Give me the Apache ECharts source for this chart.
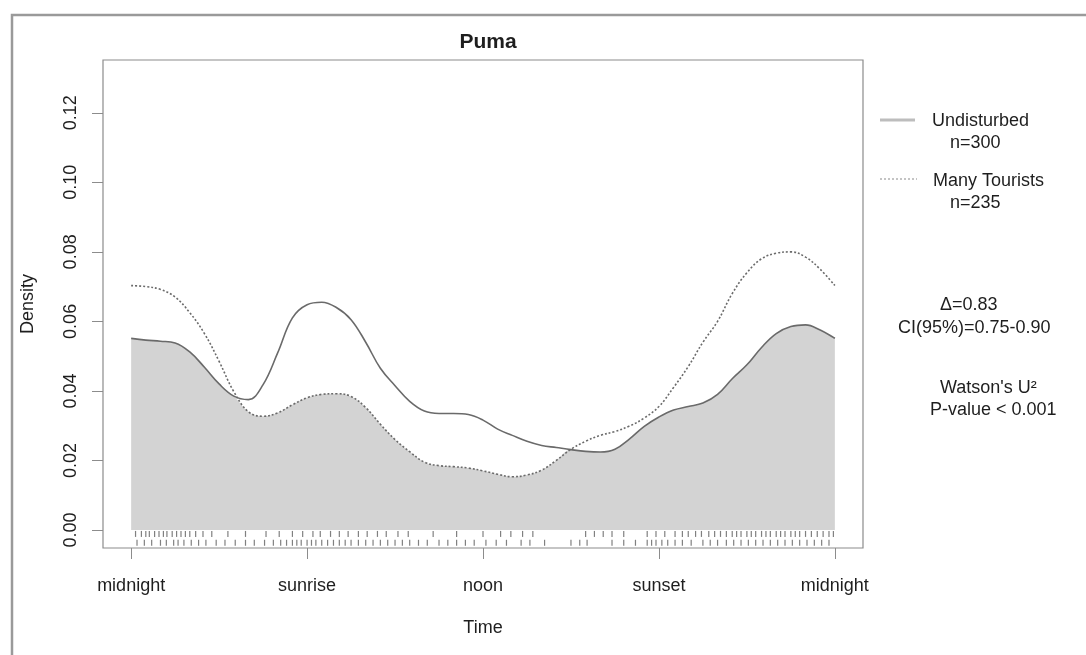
<!DOCTYPE html>
<html>
<head>
<meta charset="utf-8">
<title>Puma</title>
<script src="https://cdn.jsdelivr.net/npm/echarts@6/dist/echarts.min.js"></script>
<style>
  html, body { margin: 0; padding: 0; background: #fff; }
  #chart { width: 1086px; height: 655px; }
</style>
</head>
<body>
<div id="chart"></div>
<script>
// Time of day in hours, sampled every half hour (0 = midnight, 24 = midnight)
const hours = [
  0, 0.5, 1, 1.5, 2, 2.5, 3, 3.5, 4, 4.5, 5, 5.5, 6, 6.5, 7, 7.5, 8, 8.5, 9, 9.5,
  10, 10.5, 11, 11.5, 12, 12.5, 13, 13.5, 14, 14.5, 15, 15.5, 16, 16.5, 17, 17.5,
  18, 18.5, 19, 19.5, 20, 20.5, 21, 21.5, 22, 22.5, 23, 23.5, 24
];

// Kernel density of activity, undisturbed sites
const undisturbed = [
  0.0551, 0.0546, 0.0543, 0.0538, 0.0512, 0.0468, 0.0420, 0.0385, 0.0375, 0.0418,
  0.0510, 0.0610, 0.0648, 0.0655, 0.0640, 0.0605, 0.0540, 0.0465, 0.0415, 0.0370,
  0.0342, 0.0335, 0.0335, 0.0332, 0.0316, 0.0290, 0.0272, 0.0255, 0.0243, 0.0237,
  0.0231, 0.0226, 0.0224, 0.0232, 0.0262, 0.0298, 0.0325, 0.0345, 0.0355, 0.0365,
  0.0390, 0.0435, 0.0475, 0.0525, 0.0565, 0.0585, 0.0590, 0.0575, 0.0551
];

// Kernel density of activity, sites with many tourists
const manyTourists = [
  0.0703, 0.0700, 0.0692, 0.0670, 0.0625, 0.0565, 0.0485, 0.0398, 0.0340, 0.0327,
  0.0337, 0.0360, 0.0380, 0.0390, 0.0392, 0.0384, 0.0352, 0.0304, 0.0260, 0.0225,
  0.0195, 0.0185, 0.0182, 0.0178, 0.0170, 0.0160, 0.0153, 0.0158, 0.0172, 0.0200,
  0.0232, 0.0255, 0.0272, 0.0283, 0.0299, 0.0322, 0.0355, 0.0410, 0.0470, 0.0540,
  0.0600, 0.0680, 0.0740, 0.0780, 0.0796, 0.0800, 0.0785, 0.0750, 0.0703
];

// Individual detection times (hours) shown as rugs under the curves
const rugTourists = [
  0.15, 0.35, 0.5, 0.62, 0.8, 0.95, 1.1, 1.22, 1.4, 1.55, 1.7, 1.85, 2.0, 2.2, 2.45,
  2.75, 3.3, 3.9, 4.6, 5.05, 5.5, 5.85, 6.2, 6.45, 6.8, 7.1, 7.4, 7.75, 8.05, 8.4,
  8.7, 9.1, 9.45, 10.3, 11.1, 12.0, 12.6, 12.95, 13.35, 13.7, 15.5, 15.8, 16.1, 16.4,
  16.8, 17.6, 17.9, 18.2, 18.55, 18.8, 19.0, 19.25, 19.45, 19.7, 19.9, 20.1, 20.3,
  20.5, 20.65, 20.8, 21.0, 21.15, 21.3, 21.5, 21.65, 21.8, 22.0, 22.15, 22.3, 22.5,
  22.65, 22.8, 23.0, 23.2, 23.4, 23.6, 23.8, 23.95
];
const rugUndisturbed = [
  0.2, 0.45, 0.7, 1.0, 1.2, 1.45, 1.6, 1.8, 2.05, 2.3, 2.55, 2.9, 3.2, 3.55, 3.9,
  4.2, 4.55, 4.85, 5.1, 5.3, 5.5, 5.65, 5.8, 6.0, 6.15, 6.3, 6.5, 6.7, 6.9, 7.1,
  7.3, 7.5, 7.75, 8.0, 8.25, 8.5, 8.75, 9.0, 9.25, 9.5, 9.8, 10.1, 10.5, 10.8, 11.1,
  11.4, 11.7, 12.1, 12.45, 12.8, 13.3, 13.6, 14.1, 15.0, 15.3, 15.55, 16.4, 16.8,
  17.2, 17.6, 17.75, 17.9, 18.1, 18.3, 18.55, 18.8, 19.1, 19.5, 19.75, 20.0, 20.3,
  20.55, 20.8, 21.05, 21.3, 21.55, 21.8, 22.05, 22.3, 22.55, 22.8, 23.05, 23.3,
  23.55, 23.8
];

// Axis ticks
const xTickHours = [0, 6, 12, 18, 24];
const xTickLabels = ['midnight', 'sunrise', 'noon', 'sunset', 'midnight'];
const yTicks = [0, 0.02, 0.04, 0.06, 0.08, 0.1, 0.12];

// Vertical positions of the two rug rows (below zero)
const rugLevelTourists = -0.00115;
const rugLevelUndisturbed = -0.0037;

const FONT = '"Liberation Sans", Arial, Helvetica, sans-serif';
const TEXT = '#1e1e1e';

const pairs = (xs, ys) => xs.map((x, i) => [x, ys[i]]);
// Overlap region: the lower of the two densities at each time
const overlap = hours.map((h, i) => [h, Math.min(undisturbed[i], manyTourists[i])]);

const chart = echarts.init(document.getElementById('chart'), null, { renderer: 'canvas' });

function label(text, x, y) {
  return {
    type: 'text', x: x, y: y,
    style: { text: text, fill: TEXT, font: '18px ' + FONT, verticalAlign: 'middle', align: 'left' }
  };
}

chart.setOption({
  animation: false,
  backgroundColor: '#fff',
  textStyle: { fontFamily: FONT },
  title: {
    text: 'Puma',
    left: 483, top: 27, textAlign: 'center',
    textStyle: { fontSize: 21, fontWeight: 'bold', color: TEXT, fontFamily: FONT }
  },
  grid: {
    left: 103, top: 60, right: 223, bottom: 107,
    show: true, borderColor: '#8c8c8c', borderWidth: 1.2, backgroundColor: 'transparent'
  },
  xAxis: {
    type: 'value', min: -0.96, max: 24.96,
    name: 'Time', nameLocation: 'middle', nameGap: 71,
    nameTextStyle: { fontSize: 18, color: TEXT, fontFamily: FONT },
    axisLine: { show: false, onZero: false },
    splitLine: { show: false },
    axisTick: { show: true, customValues: xTickHours, length: 11, lineStyle: { color: '#8c8c8c', width: 1 } },
    axisLabel: {
      customValues: xTickHours, margin: 29, fontSize: 18, color: TEXT, fontFamily: FONT,
      formatter: v => xTickLabels[xTickHours.indexOf(v)] || ''
    }
  },
  yAxis: {
    type: 'value', min: -0.0052, max: 0.1352,
    name: 'Density', nameLocation: 'middle', nameGap: 66, nameRotate: 90,
    nameTextStyle: { fontSize: 18, color: TEXT, fontFamily: FONT },
    axisLine: { show: false, onZero: false },
    splitLine: { show: false },
    axisTick: { show: true, customValues: yTicks, length: 11, lineStyle: { color: '#8c8c8c', width: 1 } },
    axisLabel: {
      customValues: yTicks, rotate: 90, margin: 23, fontSize: 18, color: TEXT, fontFamily: FONT,
      formatter: v => v.toFixed(2)
    }
  },
  series: [
    {
      name: 'overlap', type: 'line', data: overlap, smooth: 0.4, showSymbol: false,
      lineStyle: { width: 0 }, areaStyle: { color: '#d3d3d3', opacity: 1, origin: 'auto' },
      z: 1, silent: true
    },
    {
      name: 'Undisturbed', type: 'line', data: pairs(hours, undisturbed), smooth: 0.4, showSymbol: false,
      lineStyle: { color: '#6a6a6a', width: 1.6 }, z: 3
    },
    {
      name: 'Many Tourists', type: 'line', data: pairs(hours, manyTourists), smooth: 0.4, showSymbol: false,
      lineStyle: { color: '#6a6a6a', width: 1.6, type: [2, 2] }, z: 3
    },
    {
      name: 'rug tourists', type: 'scatter', symbol: 'rect', symbolSize: [1.2, 6],
      data: rugTourists.map(h => [h, rugLevelTourists]),
      itemStyle: { color: '#555', opacity: 0.75 }, z: 2, silent: true
    },
    {
      name: 'rug undisturbed', type: 'scatter', symbol: 'rect', symbolSize: [1.2, 6],
      data: rugUndisturbed.map(h => [h, rugLevelUndisturbed]),
      itemStyle: { color: '#555', opacity: 0.75 }, z: 2, silent: true
    }
  ],
  graphic: [
    // outer frame
    { type: 'rect', shape: { x: 12, y: 15, width: 1200, height: 800 },
      style: { fill: 'none', stroke: '#9a9a9a', lineWidth: 2.5 }, silent: true },
    // legend
    { type: 'line', shape: { x1: 880, y1: 120, x2: 915, y2: 120 },
      style: { stroke: '#bdbdbd', lineWidth: 3 } },
    label('Undisturbed', 932, 121),
    label('n=300', 950, 143),
    { type: 'line', shape: { x1: 880, y1: 179, x2: 917, y2: 179 },
      style: { stroke: '#8a8a8a', lineWidth: 1, lineDash: [2, 2] } },
    label('Many Tourists', 933, 181),
    label('n=235', 950, 203),
    // overlap statistics
    label('\u0394=0.83', 940, 305),
    label('CI(95%)=0.75-0.90', 898, 328),
    label("Watson's U\u00B2", 940, 388),
    label('P-value < 0.001', 930, 410)
  ]
});
</script>
</body>
</html>
